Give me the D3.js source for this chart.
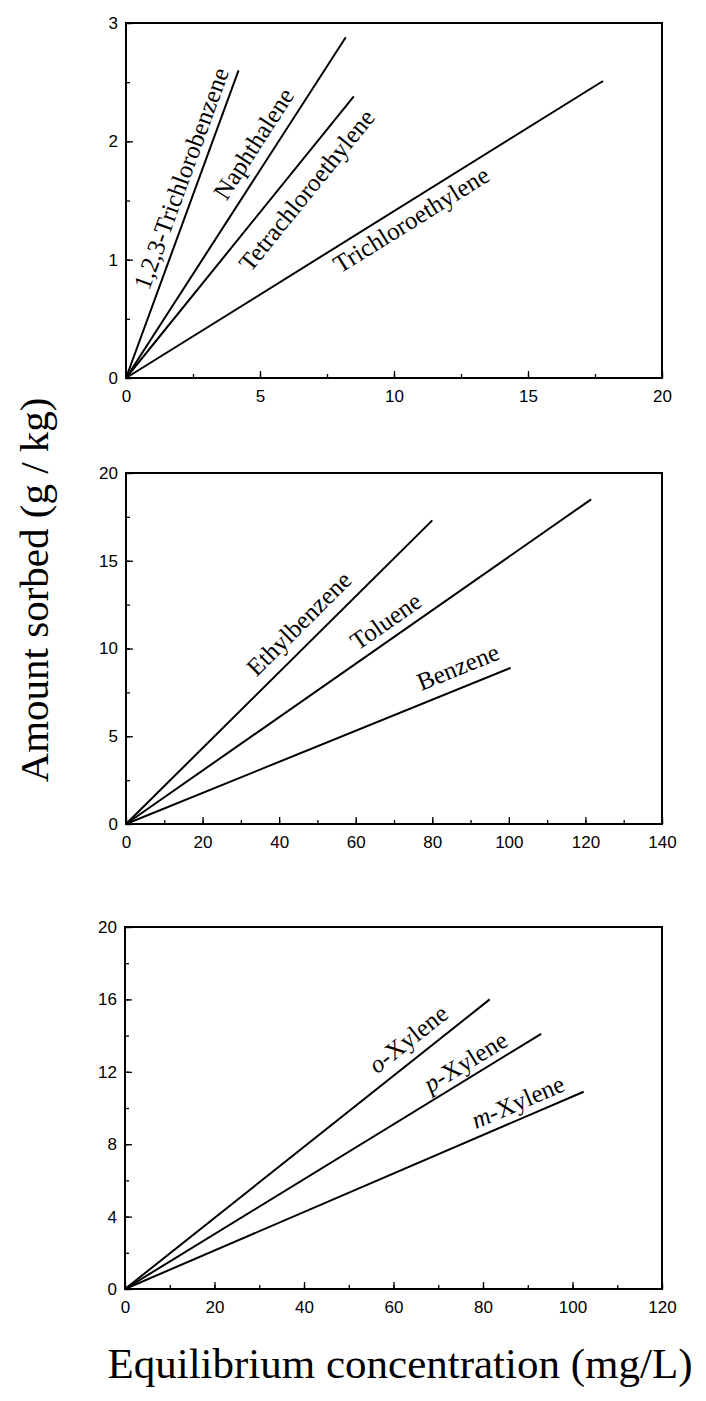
<!DOCTYPE html>
<html>
<head>
    <meta charset="utf-8">
    <title>Sorption isotherms</title>
    <script src="https://d3js.org/d3.v7.min.js"></script>
    <style>
        body { margin: 0; background: #fff; }
        .tick text {
            font-family: Arial, "Liberation Sans", sans-serif;
            font-size: 17px;
            fill: #000;
        }
        .lbl {
            font-family: "Times New Roman", "Liberation Serif", serif;
            font-size: 25px;
        }
        .title {
            font-family: "Times New Roman", "Liberation Serif", serif;
            font-size: 43px;
        }
    </style>
</head>
<body>
    <svg id="chart" width="706" height="1401"></svg>

    <script>
        // panel 1 - chlorinated compounds / naphthalene
        const names1 = ["1,2,3-Trichlorobenzene", "Naphthalene", "Tetrachloroethylene", "Trichloroethylene"];
        const xEnd1 = [4.2, 8.2, 8.5, 17.8];
        const yEnd1 = [2.6, 2.88, 2.38, 2.51];
        const xTicks1 = [0, 5, 10, 15, 20];
        const yTicks1 = [0, 1, 2, 3];

        // panel 2 - benzene series
        const names2 = ["Ethylbenzene", "Toluene", "Benzene"];
        const xEnd2 = [80, 121.5, 100.5];
        const yEnd2 = [17.3, 18.5, 8.9];
        const xTicks2 = [0, 20, 40, 60, 80, 100, 120, 140];
        const yTicks2 = [0, 5, 10, 15, 20];

        // panel 3 - xylenes
        const names3 = ["o-Xylene", "p-Xylene", "m-Xylene"];
        const xEnd3 = [81.5, 93, 102.5];
        const yEnd3 = [16, 14.1, 10.9];
        const xTicks3 = [0, 20, 40, 60, 80, 100, 120];
        const yTicks3 = [0, 4, 8, 12, 16, 20];

        const svg = d3.select("#chart");

        // layout of each panel, plus where the labels sit along their line
        // lab: [fraction along the line, offset in px (+ above / - below)]
        const panels = [
            {names: names1, xe: xEnd1, ye: yEnd1, xt: xTicks1, yt: yTicks1,
             xMinor: d3.range(0, 20.1, 2.5), yMinor: d3.range(0, 3.01, 0.5),
             box: {l: 126, r: 662, t: 23, b: 378},
             lab: [[0.63, 17], [0.656, 20], [0.717, -22], [0.58, -16]]},
            {names: names2, xe: xEnd2, ye: yEnd2, xt: xTicks2, yt: yTicks2,
             xMinor: d3.range(0, 141, 10), yMinor: d3.range(0, 20.1, 2.5),
             box: {l: 126, r: 662, t: 473, b: 824},
             lab: [[0.612, 21], [0.58, 18], [0.883, 21]]},
            {names: names3, xe: xEnd3, ye: yEnd3, xt: xTicks3, yt: yTicks3,
             xMinor: d3.range(0, 121, 10), yMinor: d3.range(0, 20.1, 2),
             box: {l: 125, r: 662, t: 927, b: 1289},
             lab: [[0.81, 20], [0.838, 16], [0.871, 17]]}
        ];

        panels.forEach(p => {
            const x = d3.scaleLinear()
                .domain([0, d3.max(p.xt)])
                .range([p.box.l, p.box.r]);
            const y = d3.scaleLinear()
                .domain([0, d3.max(p.yt)])
                .range([p.box.b, p.box.t]);

            const g = svg.append("g");

            // minor ticks (inside)
            g.append("g")
                .attr("transform", `translate(0,${p.box.b})`)
                .call(d3.axisBottom(x).tickValues(p.xMinor).tickSize(-4).tickFormat(""))
                .call(a => a.select(".domain").remove());
            g.append("g")
                .attr("transform", `translate(${p.box.l},0)`)
                .call(d3.axisLeft(y).tickValues(p.yMinor).tickSize(-4).tickFormat(""))
                .call(a => a.select(".domain").remove());

            // major ticks + labels
            g.append("g")
                .attr("transform", `translate(0,${p.box.b})`)
                .call(d3.axisBottom(x).tickValues(p.xt).tickSize(-7).tickPadding(12).tickFormat(d3.format("d")))
                .call(a => a.select(".domain").remove());
            g.append("g")
                .attr("transform", `translate(${p.box.l},0)`)
                .call(d3.axisLeft(y).tickValues(p.yt).tickSize(-7).tickPadding(8).tickFormat(d3.format("d")))
                .call(a => a.select(".domain").remove());

            g.selectAll(".tick line").attr("stroke", "#000").attr("stroke-width", 1.3);

            // frame
            g.append("rect")
                .attr("x", p.box.l)
                .attr("y", p.box.t)
                .attr("width", p.box.r - p.box.l)
                .attr("height", p.box.b - p.box.t)
                .attr("fill", "none")
                .attr("stroke", "#000")
                .attr("stroke-width", 2);

            const line = d3.line()
                .x(d => x(d[0]))
                .y(d => y(d[1]));

            p.names.forEach((name, i) => {
                const pts = [[0, 0], [p.xe[i], p.ye[i]]];
                g.append("path")
                    .datum(pts)
                    .attr("d", line)
                    .attr("fill", "none")
                    .attr("stroke", "#000")
                    .attr("stroke-width", 2);

                // label rotated along the line
                const x0 = x(0), y0 = y(0);
                const dx = x(p.xe[i]) - x0, dy = y(p.ye[i]) - y0;
                const len = Math.hypot(dx, dy);
                const ux = dx / len, uy = dy / len;
                const [t, gap] = p.lab[i];
                const cx = x0 + ux * len * t + uy * gap;
                const cy = y0 + uy * len * t - ux * gap;
                const ang = Math.atan2(dy, dx) * 180 / Math.PI;

                const txt = g.append("text")
                    .attr("class", "lbl")
                    .attr("text-anchor", "middle")
                    .attr("dy", "0.35em")
                    .attr("transform", `translate(${cx},${cy}) rotate(${ang})`);

                const m = name.match(/^([opm])(-.*)$/);
                if (m) {
                    txt.append("tspan").style("font-style", "italic").text(m[1]);
                    txt.append("tspan").text(m[2]);
                } else {
                    txt.text(name);
                }
            });
        });

        // shared axis titles
        svg.append("text")
            .attr("class", "title")
            .style("font-size", "41px")
            .attr("text-anchor", "middle")
            .attr("transform", "translate(48,590) rotate(-90)")
            .text("Amount sorbed (g / kg)");

        svg.append("text")
            .attr("class", "title")
            .attr("x", 400)
            .attr("y", 1378)
            .attr("text-anchor", "middle")
            .text("Equilibrium concentration (mg/L)");
    </script>
</body>
</html>
